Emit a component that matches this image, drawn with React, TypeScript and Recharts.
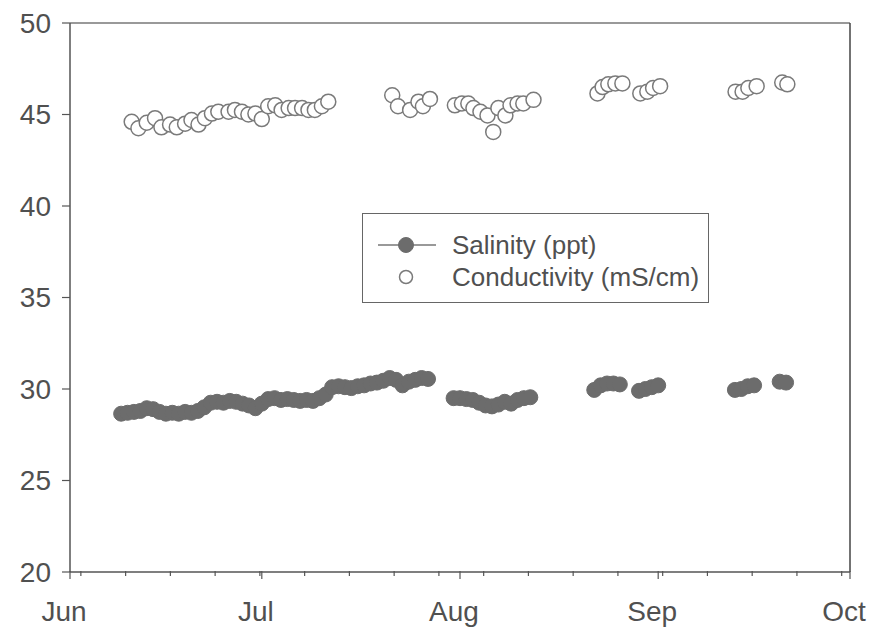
import React from "react"
import { ScatterChart, Scatter, XAxis, YAxis, ReferenceLine } from "recharts"

// x = days since Jun 1
const monthTicks = [0, 30, 61, 92, 122]
const monthLabels = ["Jun", "Jul", "Aug", "Sep", "Oct"]
const weekTicks = [1.7, 8.7, 15.7, 22.7, 29.7, 36.7, 43.7, 50.7, 57.7, 64.7, 71.7, 78.7, 85.7, 92.7, 99.7, 106.7, 113.7, 120.7]
const yTicks = [20, 25, 30, 35, 40, 45, 50]

const salinityDays = [
  8, 9, 10, 11, 12, 13, 14, 15, 16, 17, 18, 19, 20, 21, 22, 23, 24, 25, 26, 27, 28, 29, 30, 31, 32,
  33, 34, 35, 36, 37, 38, 39, 40, 41, 42, 43, 44, 45, 46, 47, 48, 49, 50, 51, 52, 53, 54, 55, 56,
  60, 61, 62, 63, 64, 65, 66, 67, 68, 69, 70, 71, 72,
  82, 83, 84, 85, 86,
  89, 90, 91, 92,
  104, 105, 106, 107,
  111, 112,
]
const salinityValues = [
  28.65, 28.7, 28.75, 28.8, 28.95, 28.9, 28.75, 28.65, 28.7, 28.65, 28.75, 28.7, 28.8, 29.0, 29.25, 29.3,
  29.25, 29.35, 29.3, 29.2, 29.1, 28.95, 29.2, 29.45, 29.5, 29.4, 29.45, 29.4, 29.35, 29.4, 29.35, 29.5,
  29.7, 30.1, 30.15, 30.1, 30.05, 30.15, 30.2, 30.3, 30.35, 30.45, 30.6, 30.5, 30.2, 30.4, 30.5, 30.6, 30.55,
  29.5, 29.5, 29.45, 29.4, 29.25, 29.1, 29.05, 29.15, 29.3, 29.2, 29.4, 29.5, 29.55,
  29.95, 30.2, 30.3, 30.3, 30.25,
  29.9, 30.0, 30.1, 30.2,
  29.95, 30.0, 30.15, 30.2,
  30.4, 30.35,
]

const conductivityDays = [
  9.65, 10.7, 12.0, 13.3, 14.3, 15.65, 16.7, 18.0, 19.0, 20.1, 21.1, 22.2, 23.2, 24.8, 25.8, 26.9,
  27.9, 29.0, 30.0, 31.0, 32.1, 33.1, 34.2, 35.2, 36.3, 37.3, 38.3, 39.4, 40.4,
  50.4, 51.3, 53.2, 54.5, 55.2, 56.3,
  60.2, 61.3, 62.3, 63.1, 64.2, 65.3, 66.2, 67.0, 68.1, 68.9, 70.0, 70.9, 72.5,
  82.5, 83.3, 84.2, 85.3, 86.4,
  89.2, 90.3, 91.2, 92.3,
  104.1, 105.2, 106.1, 107.4,
  111.4, 112.2,
]
const conductivityValues = [
  44.6, 44.25, 44.55, 44.8, 44.3, 44.45, 44.3, 44.5, 44.7, 44.45, 44.8, 45.05, 45.15, 45.15, 45.25, 45.15,
  45.0, 45.05, 44.75, 45.45, 45.5, 45.25, 45.35, 45.35, 45.35, 45.25, 45.25, 45.45, 45.7,
  46.05, 45.45, 45.25, 45.7, 45.45, 45.85,
  45.5, 45.6, 45.6, 45.35, 45.15, 44.95, 44.05, 45.35, 44.95, 45.5, 45.6, 45.6, 45.8,
  46.15, 46.5, 46.65, 46.7, 46.7,
  46.15, 46.25, 46.45, 46.55,
  46.25, 46.25, 46.45, 46.55,
  46.75, 46.65,
]

const salinity = salinityDays.map((d, i) => ({ day: d, value: salinityValues[i] }))
const conductivity = conductivityDays.map((d, i) => ({ day: d, value: conductivityValues[i] }))
const allXTicks = [...monthTicks, ...weekTicks].sort((a, b) => a - b)

const FONT = '"Liberation Sans", Arial, sans-serif'
const TEXT = "#505050"
const AXIS = "#555"

function DateTick(props: any) {
  const { x, y, payload } = props
  const idx = monthTicks.indexOf(payload.value)
  const major = idx >= 0
  return (
    <g>
      <line x1={x} x2={x} y1={y - 1} y2={y + (major ? 7 : 4)} stroke={AXIS} strokeWidth={1.2} />
      {major && (
        <text x={x - 6} y={y + 49} textAnchor="middle" fontSize={28} fontFamily={FONT} fill={TEXT}>
          {monthLabels[idx]}
        </text>
      )}
    </g>
  )
}

const filledDot = (p: any) => (
  <circle cx={p.cx} cy={p.cy} r={7.5} fill="#6c6c6c" stroke="#6c6c6c" strokeWidth={1} />
)
const openDot = (p: any) => (
  <circle cx={p.cx} cy={p.cy} r={7.5} fill="#fff" stroke="#7a7a7a" strokeWidth={1.5} />
)

export default function App() {
  return (
    <div style={{ position: "absolute", left: 0, top: 0, width: 873, height: 635, background: "#fff" }}>
      <ScatterChart width={873} height={635} margin={{ top: 23, right: 23, bottom: 23, left: 0 }}>
        <XAxis
          type="number"
          dataKey="day"
          domain={[0, 122]}
          ticks={allXTicks}
          interval={0}
          tickSize={0}
          tickMargin={0}
          tickLine={false}
          tick={<DateTick />}
          height={40}
          axisLine={{ stroke: AXIS, strokeWidth: 1.5 }}
        />
        <YAxis
          type="number"
          dataKey="value"
          domain={[20, 50]}
          ticks={yTicks}
          interval={0}
          width={70}
          tickSize={8}
          tickMargin={11}
          tickLine={{ stroke: AXIS, strokeWidth: 1.2 }}
          axisLine={{ stroke: AXIS, strokeWidth: 1.5 }}
          tick={{ fontSize: 28, fontFamily: FONT, fill: TEXT }}
        />
        <ReferenceLine y={50} stroke="#777" strokeWidth={1.5} />
        <ReferenceLine x={122} stroke="#444" strokeWidth={1.5} />
        <Scatter data={salinity} shape={filledDot} isAnimationActive={false} />
        <Scatter data={conductivity} shape={openDot} isAnimationActive={false} />
      </ScatterChart>

      <div
        style={{
          position: "absolute",
          left: 362,
          top: 213,
          width: 347,
          height: 90,
          border: "1.5px solid #666",
          boxSizing: "border-box",
        }}
      >
        <svg width={347} height={90} style={{ position: "absolute", left: 0, top: 0 }}>
          <line x1={15} x2={73} y1={31} y2={31} stroke="#777" strokeWidth={1.5} />
          <circle cx={43} cy={31} r={7.5} fill="#6c6c6c" stroke="#6c6c6c" />
          <circle cx={43} cy={63} r={6.5} fill="#fff" stroke="#7a7a7a" strokeWidth={1.5} />
          <text x={89} y={40} fontSize={26} fontFamily={FONT} fill={TEXT}>Salinity (ppt)</text>
          <text x={89} y={72} fontSize={26} fontFamily={FONT} fill={TEXT}>Conductivity (mS/cm)</text>
        </svg>
      </div>
    </div>
  )
}
